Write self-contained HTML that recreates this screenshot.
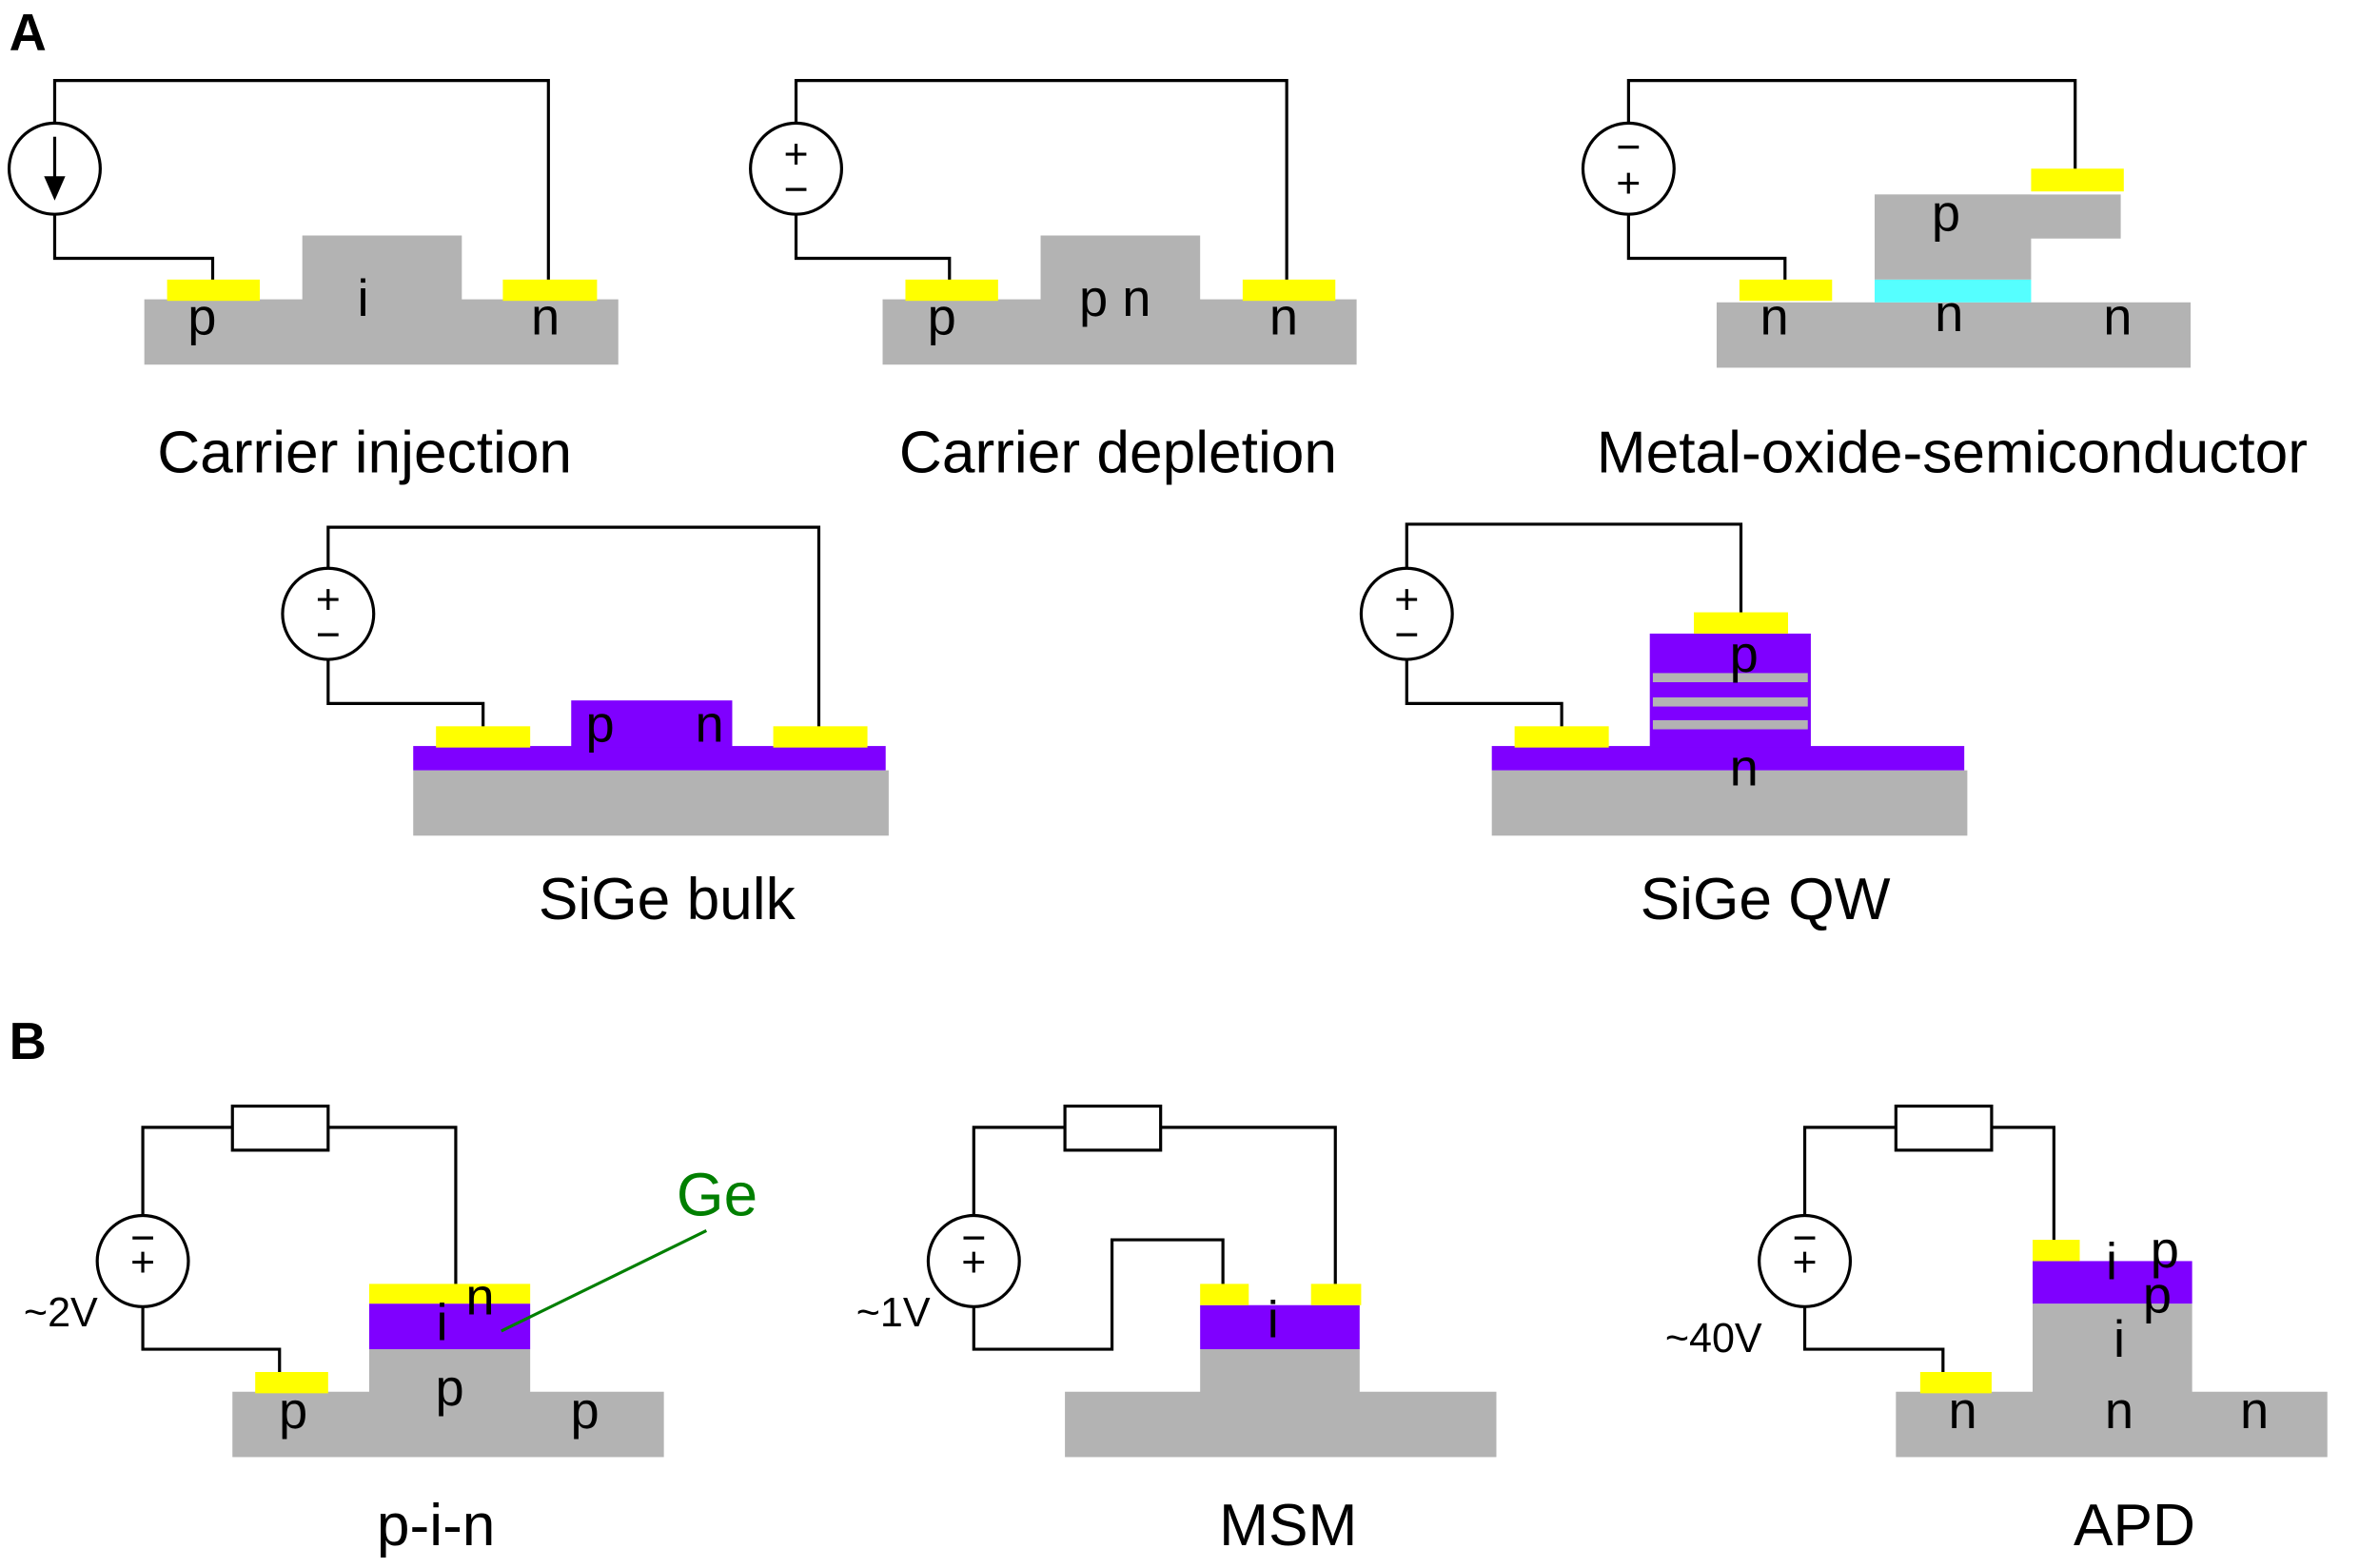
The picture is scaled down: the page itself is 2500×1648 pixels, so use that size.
<!DOCTYPE html>
<html><head><meta charset="utf-8"><style>html,body{margin:0;padding:0;background:#fff}svg{display:block}</style></head>
<body>
<svg width="2500" height="1648" viewBox="0 0 1566 1032" preserveAspectRatio="none" xmlns="http://www.w3.org/2000/svg" font-family="Liberation Sans, sans-serif">
<g fill="none" stroke="#000" stroke-width="2">
<polyline points="36,81 36,53 361,53 361,185"/>
<polyline points="36,141 36,170 140,170 140,185"/>
<polyline points="524,81 524,53 847,53 847,185"/>
<polyline points="524,141 524,170 625,170 625,185"/>
<polyline points="1072,81 1072,53 1366,53 1366,112"/>
<polyline points="1072,141 1072,170 1175,170 1175,185"/>
<polyline points="216,374 216,347 539,347 539,479"/>
<polyline points="216,434 216,463 318,463 318,479"/>
<polyline points="926,374 926,345 1146,345 1146,404"/>
<polyline points="926,434 926,463 1028,463 1028,479"/>
<polyline points="94,800 94,742 300,742 300,846"/>
<polyline points="94,860 94,888 184,888 184,904"/>
<polyline points="641,800 641,742 879,742 879,846"/>
<polyline points="641,860 641,888 732,888 732,816 805,816 805,846"/>
<polyline points="1188,800 1188,742 1352,742 1352,817"/>
<polyline points="1188,860 1188,888 1279,888 1279,904"/>
</g>
<g fill="#fff" stroke="#000" stroke-width="2">
<circle cx="36" cy="111" r="30"/>
<circle cx="524" cy="111" r="30"/>
<circle cx="1072" cy="111" r="30"/>
<circle cx="216" cy="404" r="30"/>
<circle cx="926" cy="404" r="30"/>
<circle cx="94" cy="830" r="30"/>
<circle cx="641" cy="830" r="30"/>
<circle cx="1188" cy="830" r="30"/>
<rect x="153" y="728" width="63" height="29"/>
<rect x="701" y="728" width="63" height="29"/>
<rect x="1248" y="728" width="63" height="29"/>
</g>
<g stroke="#000" stroke-width="2">
<line x1="36" y1="90" x2="36" y2="120"/>
</g>
<polygon points="29,116 43,116 36,132" fill="#000"/>
<g font-size="28" text-anchor="middle" fill="#000">
<text x="524" y="111">+</text><text x="524" y="134">−</text>
<text x="1072" y="106">−</text><text x="1072" y="130">+</text>
<text x="216" y="404">+</text><text x="216" y="427">−</text>
<text x="926" y="404">+</text><text x="926" y="427">−</text>
<text x="94" y="824">−</text><text x="94" y="840">+</text>
<text x="641" y="824">−</text><text x="641" y="840">+</text>
<text x="1188" y="824">−</text><text x="1188" y="840">+</text>
</g>
<rect x="95" y="197" width="312" height="43" fill="#b3b3b3"/>
<rect x="199" y="155" width="105" height="43" fill="#b3b3b3"/>
<rect x="110" y="184" width="61" height="14" fill="#ff0"/>
<rect x="331" y="184" width="62" height="14" fill="#ff0"/>
<rect x="581" y="197" width="312" height="43" fill="#b3b3b3"/>
<rect x="685" y="155" width="105" height="43" fill="#b3b3b3"/>
<rect x="596" y="184" width="61" height="14" fill="#ff0"/>
<rect x="818" y="184" width="61" height="14" fill="#ff0"/>
<rect x="1130" y="199" width="312" height="43" fill="#b3b3b3"/>
<rect x="1145" y="184" width="61" height="14" fill="#ff0"/>
<rect x="1234" y="184" width="103" height="15" fill="#55ffff"/>
<rect x="1234" y="128" width="162" height="29" fill="#b3b3b3"/>
<rect x="1234" y="128" width="103" height="56" fill="#b3b3b3"/>
<rect x="1337" y="111" width="61" height="15" fill="#ff0"/>
<rect x="272" y="507" width="313" height="43" fill="#b3b3b3"/>
<rect x="272" y="491" width="311" height="16" fill="#7f00ff"/>
<rect x="376" y="461" width="106" height="31" fill="#7f00ff"/>
<rect x="287" y="478" width="62" height="14" fill="#ff0"/>
<rect x="509" y="478" width="62" height="14" fill="#ff0"/>
<rect x="982" y="507" width="313" height="43" fill="#b3b3b3"/>
<rect x="982" y="491" width="311" height="16" fill="#7f00ff"/>
<rect x="1086" y="417" width="106" height="75" fill="#7f00ff"/>
<rect x="1088" y="443" width="102" height="6" fill="#b3b3b3"/>
<rect x="1088" y="459" width="102" height="6" fill="#b3b3b3"/>
<rect x="1088" y="474" width="102" height="6" fill="#b3b3b3"/>
<rect x="997" y="478" width="62" height="14" fill="#ff0"/>
<rect x="1115" y="403" width="62" height="14" fill="#ff0"/>
<rect x="153" y="916" width="284" height="43" fill="#b3b3b3"/>
<rect x="243" y="888" width="106" height="29" fill="#b3b3b3"/>
<rect x="243" y="858" width="106" height="30" fill="#7f00ff"/>
<rect x="243" y="845" width="106" height="13" fill="#ff0"/>
<rect x="168" y="903" width="48" height="14" fill="#ff0"/>
<line x1="465" y1="810" x2="330" y2="876" stroke="#007f00" stroke-width="2"/>
<rect x="701" y="916" width="284" height="43" fill="#b3b3b3"/>
<rect x="790" y="888" width="105" height="29" fill="#b3b3b3"/>
<rect x="790" y="859" width="105" height="29" fill="#7f00ff"/>
<rect x="790" y="845" width="32" height="14" fill="#ff0"/>
<rect x="863" y="845" width="33" height="14" fill="#ff0"/>
<rect x="1248" y="916" width="284" height="43" fill="#b3b3b3"/>
<rect x="1338" y="858" width="105" height="59" fill="#b3b3b3"/>
<rect x="1338" y="830" width="105" height="28" fill="#7f00ff"/>
<rect x="1338" y="816" width="31" height="14" fill="#ff0"/>
<rect x="1264" y="903" width="47" height="14" fill="#ff0"/>
<g font-size="34" text-anchor="middle" fill="#000">
<text x="133" y="220">p</text><text x="239" y="208">i</text><text x="359" y="220">n</text>
<text x="734" y="208">p n</text><text x="620" y="220">p</text><text x="845" y="220">n</text>
<text x="1281" y="152">p</text><text x="1168" y="220">n</text><text x="1283" y="218">n</text><text x="1394" y="220">n</text>
<text x="395" y="488">p</text><text x="467" y="488">n</text>
<text x="1148" y="442">p</text><text x="1148" y="517">n</text>
<text x="316" y="865">n</text><text x="291" y="882">i</text><text x="296" y="925">p</text><text x="193" y="940">p</text><text x="385" y="940">p</text>
<text x="838" y="880">i</text>
<text x="1390" y="842">i</text><text x="1425" y="834">p</text><text x="1420" y="864">p</text><text x="1395" y="893">i</text>
<text x="1292" y="940">n</text><text x="1395" y="940">n</text><text x="1484" y="940">n</text>
</g>
<g font-size="27" text-anchor="middle" fill="#000">
<text x="40" y="873">~2V</text><text x="588" y="873">~1V</text><text x="1128" y="890">~40V</text>
</g>
<text x="472" y="800" font-size="40" text-anchor="middle" fill="#007f00">Ge</text>
<g font-size="39" text-anchor="middle" fill="#000">
<text x="240" y="311">Carrier injection</text>
<text x="736" y="311">Carrier depletion</text>
<text x="1285" y="311">Metal-oxide-semiconductor</text>
<text x="439" y="605">SiGe bulk</text>
<text x="1162" y="605">SiGe QW</text>
<text x="287" y="1017">p-i-n</text>
<text x="848" y="1017">MSM</text>
<text x="1405" y="1017">APD</text>
</g>
<g font-size="34" font-weight="bold" fill="#000">
<text x="6" y="33">A</text>
<text x="6" y="697">B</text>
</g>
</svg>
</body></html>
